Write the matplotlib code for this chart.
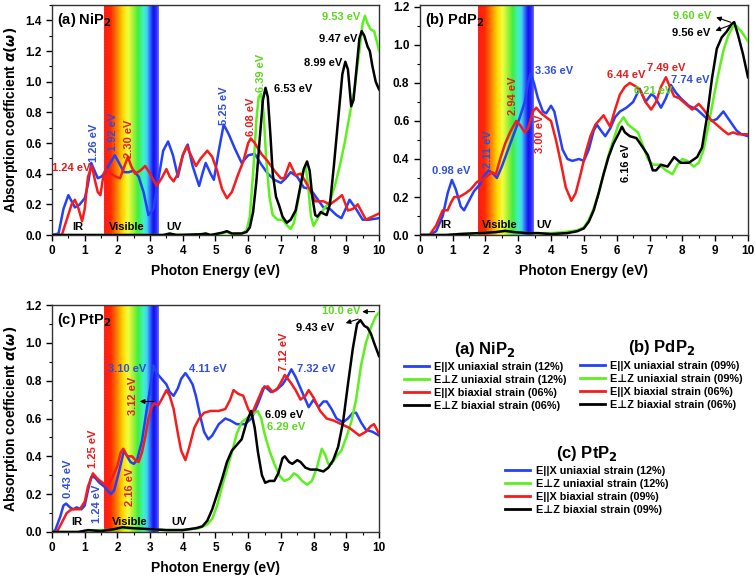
import matplotlib
matplotlib.use("Agg")
import numpy as np
import matplotlib.pyplot as plt
from matplotlib.colors import LinearSegmentedColormap
from matplotlib.lines import Line2D
from matplotlib.ticker import MultipleLocator, FormatStrFormatter

plt.rcParams['font.family'] = ['Liberation Sans', 'DejaVu Sans']
plt.rcParams['font.weight'] = 'bold'
plt.rcParams['axes.labelweight'] = 'bold'
plt.rcParams['mathtext.fontset'] = 'dejavusans'

# ---- data: (photon energy eV, absorption) ----
ni_ux = [(0, 0), (0.2, 0.01), (0.35, 0.17), (0.5, 0.26), (0.6, 0.22), (0.7, 0.18), (0.85, 0.2), (1.0, 0.24),
         (1.1, 0.33), (1.2, 0.47), (1.3, 0.42), (1.4, 0.37), (1.5, 0.38), (1.6, 0.40), (1.75, 0.46), (1.92, 0.52),
         (2.05, 0.47), (2.2, 0.41), (2.35, 0.41), (2.5, 0.42), (2.65, 0.38), (2.8, 0.28), (2.95, 0.13), (3.1, 0.17),
         (3.25, 0.36), (3.4, 0.55), (3.55, 0.61), (3.7, 0.52), (3.85, 0.38), (4.0, 0.52), (4.15, 0.59), (4.3, 0.45),
         (4.5, 0.32), (4.6, 0.40), (4.7, 0.47), (4.85, 0.40), (4.95, 0.36), (5.1, 0.55), (5.25, 0.72), (5.4, 0.66),
         (5.6, 0.56), (5.8, 0.47), (6.0, 0.52), (6.2, 0.53), (6.4, 0.46), (6.6, 0.40), (6.8, 0.36), (7.0, 0.34),
         (7.15, 0.37), (7.3, 0.41), (7.5, 0.38), (7.7, 0.31), (7.9, 0.30), (8.1, 0.24), (8.3, 0.18), (8.5, 0.17),
         (8.7, 0.13), (8.85, 0.11), (9.0, 0.18), (9.1, 0.23), (9.3, 0.17), (9.5, 0.10), (9.7, 0.10), (10.0, 0.11)]
ni_uz = [(0, 0), (3.5, 0.0), (3.7, 0.005), (4.0, 0.0), (4.5, 0.005), (4.65, 0.01), (4.8, 0.0), (5.2, 0.01),
         (5.35, 0.02), (5.5, 0.005), (5.8, 0.01), (5.95, 0.03), (6.05, 0.12), (6.15, 0.4), (6.25, 0.75), (6.32, 0.9),
         (6.39, 0.92), (6.47, 0.8), (6.55, 0.5), (6.65, 0.25), (6.75, 0.13), (6.9, 0.10), (7.05, 0.10), (7.2, 0.06),
         (7.3, 0.04), (7.4, 0.08), (7.55, 0.25), (7.68, 0.42), (7.75, 0.45), (7.82, 0.35), (7.92, 0.12), (8.0, 0.06),
         (8.15, 0.12), (8.35, 0.18), (8.5, 0.22), (8.65, 0.32), (8.8, 0.45), (8.95, 0.6), (9.1, 0.78), (9.25, 0.95),
         (9.4, 1.2), (9.5, 1.38), (9.57, 1.43), (9.65, 1.38), (9.75, 1.34), (9.85, 1.33), (9.95, 1.25), (10.0, 1.2)]
ni_bx = [(0, 0), (0.3, 0.0), (0.45, 0.1), (0.6, 0.2), (0.7, 0.23), (0.8, 0.18), (0.92, 0.09), (1.0, 0.17),
         (1.1, 0.38), (1.22, 0.45), (1.32, 0.35), (1.4, 0.28), (1.48, 0.26), (1.58, 0.4), (1.65, 0.43), (1.8, 0.40),
         (1.95, 0.38), (2.08, 0.37), (2.2, 0.44), (2.32, 0.51), (2.42, 0.45), (2.54, 0.40), (2.7, 0.42), (2.85, 0.45),
         (3.0, 0.40), (3.2, 0.32), (3.35, 0.37), (3.5, 0.43), (3.6, 0.38), (3.72, 0.35), (3.85, 0.40), (4.0, 0.52),
         (4.12, 0.58), (4.25, 0.52), (4.4, 0.45), (4.55, 0.5), (4.75, 0.55), (4.9, 0.51), (5.05, 0.42), (5.2, 0.3),
         (5.35, 0.24), (5.5, 0.28), (5.7, 0.4), (5.85, 0.48), (6.0, 0.6), (6.08, 0.63), (6.2, 0.6), (6.4, 0.53),
         (6.6, 0.48), (6.8, 0.42), (7.0, 0.37), (7.1, 0.37), (7.27, 0.47), (7.45, 0.39), (7.6, 0.40), (7.75, 0.35),
         (7.9, 0.29), (8.05, 0.22), (8.3, 0.22), (8.5, 0.2), (8.7, 0.23), (8.87, 0.26), (9.05, 0.16), (9.2, 0.17),
         (9.35, 0.2), (9.45, 0.16), (9.6, 0.10), (9.8, 0.12), (10.0, 0.14)]
ni_bz = [(0, 0), (3.4, 0.0), (3.6, 0.01), (3.8, 0.0), (4.6, 0.005), (4.7, 0.01), (4.85, 0.0), (5.2, 0.015),
         (5.35, 0.025), (5.5, 0.01), (5.8, 0.01), (5.95, 0.02), (6.05, 0.05), (6.15, 0.15), (6.25, 0.35), (6.35, 0.62),
         (6.45, 0.88), (6.53, 0.96), (6.6, 0.9), (6.68, 0.65), (6.75, 0.4), (6.85, 0.25), (6.95, 0.19), (7.05, 0.12),
         (7.18, 0.08), (7.3, 0.1), (7.45, 0.16), (7.58, 0.3), (7.7, 0.43), (7.8, 0.48), (7.88, 0.42), (7.96, 0.25),
         (8.05, 0.13), (8.12, 0.12), (8.22, 0.15), (8.3, 0.14), (8.4, 0.13), (8.5, 0.2), (8.62, 0.45), (8.75, 0.75),
         (8.88, 1.05), (8.97, 1.13), (9.05, 1.08), (9.15, 0.84), (9.22, 0.88), (9.32, 1.1), (9.4, 1.28), (9.47, 1.33),
         (9.55, 1.3), (9.65, 1.23), (9.72, 1.2), (9.8, 1.1), (9.9, 1.0), (10.0, 0.95)]

pd_ux = [(0, 0), (0.3, 0.0), (0.5, 0.02), (0.7, 0.1), (0.85, 0.22), (0.98, 0.29), (1.1, 0.24), (1.25, 0.15),
         (1.35, 0.13), (1.5, 0.18), (1.65, 0.23), (1.85, 0.27), (1.95, 0.31), (2.1, 0.34), (2.25, 0.32), (2.35, 0.30),
         (2.5, 0.36), (2.65, 0.43), (2.8, 0.5), (2.95, 0.57), (3.05, 0.62), (3.2, 0.7), (3.3, 0.8), (3.38, 0.85),
         (3.48, 0.8), (3.6, 0.72), (3.75, 0.65), (3.85, 0.64), (4.0, 0.68), (4.1, 0.65), (4.2, 0.57), (4.35, 0.45),
         (4.5, 0.4), (4.65, 0.39), (4.85, 0.40), (5.0, 0.39), (5.15, 0.45), (5.3, 0.55), (5.4, 0.58), (5.52, 0.55),
         (5.65, 0.52), (5.8, 0.56), (5.95, 0.62), (6.1, 0.65), (6.3, 0.67), (6.5, 0.70), (6.7, 0.77), (6.88, 0.70),
         (7.05, 0.74), (7.15, 0.73), (7.35, 0.67), (7.5, 0.72), (7.65, 0.79), (7.8, 0.75), (7.95, 0.72), (8.2, 0.68),
         (8.45, 0.66), (8.7, 0.62), (8.9, 0.6), (9.05, 0.61), (9.25, 0.65), (9.45, 0.60), (9.65, 0.55), (9.8, 0.53),
         (10.0, 0.52)]
pd_uz = [(0, 0), (0.8, 0.0), (1.2, 0.005), (1.8, 0.01), (2.3, 0.015), (2.6, 0.02), (2.9, 0.015), (3.3, 0.01),
         (3.6, 0.01), (4.0, 0.01), (4.4, 0.015), (4.8, 0.025), (5.0, 0.04), (5.15, 0.08), (5.3, 0.14), (5.45, 0.22),
         (5.6, 0.32), (5.75, 0.42), (5.9, 0.5), (6.05, 0.58), (6.21, 0.62), (6.35, 0.58), (6.5, 0.56), (6.65, 0.54),
         (6.8, 0.47), (6.95, 0.4), (7.1, 0.37), (7.3, 0.37), (7.5, 0.34), (7.7, 0.32), (7.85, 0.37), (8.0, 0.40),
         (8.15, 0.39), (8.35, 0.36), (8.5, 0.38), (8.65, 0.45), (8.8, 0.58), (8.95, 0.72), (9.1, 0.85), (9.25, 0.97),
         (9.4, 1.05), (9.55, 1.1), (9.65, 1.1), (9.8, 1.07), (10.0, 1.02)]
pd_bx = [(0, 0), (0.3, 0.0), (0.5, 0.05), (0.7, 0.13), (0.85, 0.13), (0.95, 0.17), (1.05, 0.2), (1.2, 0.2),
         (1.4, 0.22), (1.55, 0.24), (1.75, 0.28), (1.9, 0.29), (2.05, 0.31), (2.2, 0.33), (2.32, 0.32), (2.45, 0.40),
         (2.6, 0.48), (2.75, 0.54), (2.94, 0.60), (3.05, 0.58), (3.2, 0.54), (3.3, 0.56), (3.45, 0.65), (3.55, 0.67),
         (3.7, 0.64), (3.85, 0.62), (4.0, 0.6), (4.15, 0.5), (4.3, 0.38), (4.45, 0.25), (4.62, 0.18), (4.75, 0.22),
         (4.9, 0.32), (5.05, 0.43), (5.2, 0.52), (5.35, 0.58), (5.6, 0.63), (5.8, 0.57), (5.95, 0.66), (6.1, 0.74),
         (6.25, 0.78), (6.4, 0.80), (6.6, 0.78), (6.75, 0.75), (6.88, 0.70), (7.05, 0.66), (7.2, 0.7), (7.35, 0.78),
         (7.5, 0.83), (7.62, 0.78), (7.75, 0.73), (7.9, 0.72), (8.1, 0.69), (8.3, 0.66), (8.5, 0.69), (8.65, 0.66),
         (8.85, 0.61), (9.05, 0.58), (9.25, 0.55), (9.4, 0.53), (9.55, 0.54), (9.7, 0.53), (10.0, 0.53)]
pd_bz = [(0, 0), (0.8, 0.0), (1.2, 0.005), (1.8, 0.01), (2.3, 0.015), (2.6, 0.022), (2.9, 0.015), (3.3, 0.01),
         (3.6, 0.01), (4.0, 0.005), (4.5, 0.01), (4.8, 0.02), (5.0, 0.035), (5.15, 0.07), (5.3, 0.13), (5.45, 0.22),
         (5.6, 0.32), (5.75, 0.41), (5.9, 0.48), (6.05, 0.53), (6.16, 0.57), (6.25, 0.54), (6.4, 0.52), (6.6, 0.51),
         (6.8, 0.46), (6.95, 0.42), (7.1, 0.34), (7.2, 0.34), (7.35, 0.37), (7.55, 0.36), (7.75, 0.41), (7.95, 0.38),
         (8.2, 0.38), (8.45, 0.41), (8.6, 0.46), (8.75, 0.62), (8.9, 0.82), (9.05, 0.98), (9.2, 1.04), (9.35, 1.07),
         (9.5, 1.11), (9.58, 1.12), (9.7, 1.05), (9.85, 0.95), (10.0, 0.83)]

pt_ux = [(0, 0), (0.1, 0.01), (0.25, 0.08), (0.35, 0.14), (0.43, 0.15), (0.55, 0.13), (0.65, 0.12), (0.75, 0.13),
         (0.9, 0.12), (1.0, 0.14), (1.1, 0.22), (1.2, 0.29), (1.3, 0.29), (1.45, 0.26), (1.6, 0.24), (1.7, 0.22),
         (1.8, 0.2), (1.9, 0.22), (2.05, 0.32), (2.2, 0.43), (2.3, 0.4), (2.4, 0.37), (2.5, 0.36), (2.6, 0.38),
         (2.75, 0.48), (2.9, 0.65), (3.0, 0.76), (3.1, 0.88), (3.2, 0.84), (3.35, 0.81), (3.5, 0.78), (3.6, 0.74),
         (3.72, 0.72), (3.85, 0.76), (3.95, 0.81), (4.08, 0.84), (4.2, 0.81), (4.3, 0.78), (4.4, 0.72), (4.55, 0.6),
         (4.65, 0.53), (4.78, 0.49), (4.9, 0.51), (5.1, 0.57), (5.3, 0.60), (5.45, 0.59), (5.65, 0.57), (5.9, 0.57),
         (6.1, 0.6), (6.3, 0.68), (6.5, 0.77), (6.7, 0.74), (6.85, 0.75), (7.05, 0.78), (7.2, 0.82), (7.32, 0.86),
         (7.45, 0.82), (7.6, 0.76), (7.75, 0.7), (7.85, 0.66), (8.0, 0.70), (8.15, 0.66), (8.3, 0.69), (8.4, 0.69),
         (8.55, 0.65), (8.7, 0.60), (8.9, 0.58), (9.05, 0.60), (9.2, 0.63), (9.3, 0.63), (9.45, 0.58), (9.6, 0.54),
         (9.8, 0.53), (10.0, 0.51)]
pt_uz = [(0, 0), (0.8, 0.0), (1.1, 0.005), (1.5, 0.01), (1.9, 0.01), (2.2, 0.02), (2.5, 0.015), (3.0, 0.015),
         (3.5, 0.01), (4.0, 0.01), (4.5, 0.02), (4.75, 0.04), (4.9, 0.07), (5.05, 0.14), (5.2, 0.24), (5.35, 0.33),
         (5.5, 0.42), (5.65, 0.52), (5.8, 0.58), (5.95, 0.6), (6.1, 0.62), (6.29, 0.64), (6.4, 0.6), (6.5, 0.52),
         (6.65, 0.43), (6.8, 0.36), (6.95, 0.30), (7.1, 0.27), (7.25, 0.28), (7.4, 0.31), (7.5, 0.30), (7.65, 0.27),
         (7.8, 0.25), (7.95, 0.27), (8.1, 0.34), (8.25, 0.44), (8.35, 0.41), (8.45, 0.36), (8.55, 0.36), (8.7, 0.40),
         (8.85, 0.43), (9.0, 0.50), (9.15, 0.58), (9.3, 0.70), (9.45, 0.88), (9.6, 1.0), (9.75, 1.08), (9.9, 1.14),
         (10.0, 1.16)]
pt_bx = [(0, 0), (0.15, 0.0), (0.3, 0.05), (0.45, 0.1), (0.6, 0.12), (0.85, 0.12), (1.0, 0.16), (1.1, 0.24),
         (1.25, 0.31), (1.4, 0.28), (1.55, 0.26), (1.7, 0.24), (1.85, 0.29), (2.0, 0.35), (2.1, 0.42), (2.18, 0.44),
         (2.3, 0.4), (2.45, 0.40), (2.55, 0.38), (2.65, 0.37), (2.75, 0.42), (2.85, 0.5), (2.95, 0.6), (3.05, 0.66),
         (3.12, 0.68), (3.25, 0.67), (3.35, 0.70), (3.5, 0.75), (3.6, 0.72), (3.72, 0.65), (3.85, 0.52), (3.95, 0.43),
         (4.08, 0.38), (4.2, 0.45), (4.35, 0.55), (4.5, 0.6), (4.65, 0.63), (4.85, 0.64), (5.1, 0.64), (5.3, 0.65),
         (5.45, 0.7), (5.55, 0.75), (5.7, 0.73), (5.85, 0.72), (6.0, 0.65), (6.1, 0.62), (6.25, 0.68), (6.45, 0.76),
         (6.6, 0.77), (6.75, 0.74), (6.9, 0.76), (7.0, 0.79), (7.12, 0.83), (7.3, 0.79), (7.45, 0.75), (7.6, 0.70),
         (7.75, 0.72), (7.85, 0.75), (8.0, 0.71), (8.2, 0.64), (8.4, 0.6), (8.6, 0.59), (8.85, 0.57), (9.1, 0.55),
         (9.25, 0.53), (9.4, 0.51), (9.6, 0.53), (9.75, 0.56), (9.85, 0.57), (10.0, 0.52)]
pt_bz = [(0, 0), (0.8, 0.0), (1.1, 0.01), (1.5, 0.005), (1.9, 0.015), (2.15, 0.025), (2.5, 0.02), (3.0, 0.015),
         (3.5, 0.01), (4.0, 0.01), (4.4, 0.02), (4.6, 0.03), (4.75, 0.06), (4.9, 0.12), (5.05, 0.2), (5.2, 0.28),
         (5.35, 0.37), (5.5, 0.43), (5.65, 0.46), (5.8, 0.49), (5.95, 0.58), (6.09, 0.64), (6.2, 0.55), (6.3, 0.42),
         (6.42, 0.3), (6.52, 0.26), (6.65, 0.27), (6.8, 0.27), (6.92, 0.31), (7.05, 0.39), (7.12, 0.40), (7.25, 0.37),
         (7.35, 0.36), (7.5, 0.38), (7.6, 0.37), (7.75, 0.34), (7.9, 0.33), (8.1, 0.33), (8.3, 0.32), (8.45, 0.34),
         (8.6, 0.38), (8.75, 0.45), (8.9, 0.58), (9.05, 0.78), (9.2, 0.97), (9.33, 1.1), (9.43, 1.12), (9.55, 1.09),
         (9.65, 1.08), (9.75, 1.05), (9.85, 1.0), (10.0, 0.93)]

ni_labels = ['E||X uniaxial strain (12%)', 'E\u22a5Z uniaxial strain (12%)',
             'E||X biaxial strain (06%)', 'E\u22a5Z biaxial strain (06%)']
pd_labels = ['E||X uniaxial strain (09%)', 'E\u22a5Z uniaxial strain (09%)',
             'E||X biaxial strain (06%)', 'E\u22a5Z biaxial strain (06%)']
pt_labels = ['E||X uniaxial strain (12%)', 'E\u22a5Z uniaxial strain (12%)',
             'E||X biaxial strain (09%)', 'E\u22a5Z biaxial strain (09%)']

BLUE, GREEN, RED, BLACK = '#2541f5', '#5cf01e', '#f51c1c', '#000000'
TBLUE, TGREEN, TRED = '#2f4fd8', '#5cd81e', '#e81c1c'
colors = [BLUE, GREEN, RED, BLACK]

spectrum = LinearSegmentedColormap.from_list('vis', [
    (0.0, '#ff1a1a'), (0.12, '#ff2a00'), (0.25, '#ff8c00'), (0.34, '#ffd800'), (0.44, '#f0ff40'),
    (0.54, '#9cf03a'), (0.62, '#3ef040'), (0.72, '#40f0c8'), (0.78, '#40d8f0'), (0.83, '#3a78ff'),
    (0.9, '#1010f0'), (0.96, '#3030ff'), (1.0, '#7070ff')])

fig = plt.figure(figsize=(7.56, 5.79), dpi=100)


def setup_panel(rect, ytop, yticks_max, vis, title, ylabel=True):
    ax = fig.add_axes(rect)
    ax.set_xlim(0, 10)
    ax.set_ylim(0, ytop)
    ax.imshow(np.linspace(0, 1, 256).reshape(1, -1), cmap=spectrum, aspect='auto',
              extent=(vis[0], vis[1], 0, ytop), zorder=0)
    ax.axvline(vis[0], color='#ff3030', lw=0.8, ls=':', zorder=1)
    ax.xaxis.set_major_locator(MultipleLocator(1))
    ax.xaxis.set_minor_locator(MultipleLocator(0.5))
    ax.set_yticks(np.arange(0, yticks_max + 0.01, 0.2))
    ax.yaxis.set_minor_locator(MultipleLocator(0.1))
    ax.yaxis.set_major_formatter(FormatStrFormatter('%.1f'))
    ax.tick_params(which='major', direction='out', length=4, width=1, labelsize=8.5)
    ax.tick_params(which='minor', direction='out', length=2, width=0.8)
    for lbl in ax.get_xticklabels() + ax.get_yticklabels():
        lbl.set_fontweight('bold')
    for s in ax.spines.values():
        s.set_linewidth(1.0)
        s.set_color('#333333')
    ax.set_xlabel('Photon Energy (eV)', fontsize=10, labelpad=5)
    if ylabel:
        ax.set_ylabel(r'Absorption coefficient $\alpha\left(\omega\right)$', fontsize=10, labelpad=4)
    ax.text(0.15, ytop * 0.975, title, fontsize=10.5, fontweight='bold', va='top', ha='left')
    return ax


def draw_curves(ax, series):
    for pts, c in zip(series, colors):
        x, y = zip(*pts)
        ax.plot(x, y, color=c, lw=1.8, zorder=3)


def note(ax, s, x, y, c, rot=0, ha='center'):
    ax.text(x, y, s, color=c, fontsize=8, fontweight='bold', rotation=rot,
            ha=ha, va='center', zorder=5)


def arrow(ax, start, end):
    ax.annotate('', xy=end, xytext=start, zorder=6,
                arrowprops=dict(arrowstyle='-|>', color='black', lw=0.8, mutation_scale=7))


def region_labels(ax, xs):
    for s, x in zip(['IR', 'Visible', 'UV'], xs):
        ax.text(x, 0.055, s, fontsize=8, fontweight='bold', ha='center', va='center', zorder=5)


# (a) NiP2
ax_a = setup_panel([0.0688, 0.5941, 0.4325, 0.3972], 1.5, 1.4, (1.6, 3.27), '(a) NiP$_\\mathbf{2}$')
draw_curves(ax_a, [ni_ux, ni_uz, ni_bx, ni_bz])
region_labels(ax_a, [0.78, 2.3, 3.72])
note(ax_a, '1.24 eV', 0.6, 0.44, TRED)
note(ax_a, '1.26 eV', 1.27, 0.6, TBLUE, 90)
note(ax_a, '1.92 eV', 1.88, 0.67, TBLUE, 90)
note(ax_a, '2.30 eV', 2.35, 0.63, TRED, 90)
note(ax_a, '5.25 eV', 5.27, 0.84, TBLUE, 90)
note(ax_a, '6.08 eV', 6.1, 0.77, TRED, 90)
note(ax_a, '6.39 eV', 6.4, 1.06, TGREEN, 90)
note(ax_a, '6.53 eV', 7.36, 0.95, BLACK)
note(ax_a, '8.99 eV', 8.3, 1.12, BLACK)
note(ax_a, '9.47 eV', 8.75, 1.28, BLACK)
note(ax_a, '9.53 eV', 8.85, 1.42, TGREEN)

# (b) PdP2
ax_b = setup_panel([0.5552, 0.5941, 0.4342, 0.3972], 1.21, 1.2, (1.77, 3.45), '(b) PdP$_\\mathbf{2}$', ylabel=False)
draw_curves(ax_b, [pd_ux, pd_uz, pd_bx, pd_bz])
region_labels(ax_b, [0.8, 2.45, 3.78])
note(ax_b, '0.98 eV', 0.95, 0.335, TBLUE)
note(ax_b, '2.11 eV', 2.08, 0.45, TBLUE, 90)
note(ax_b, '2.94 eV', 2.84, 0.73, TRED, 90)
note(ax_b, '3.36 eV', 4.1, 0.865, TBLUE)
note(ax_b, '3.00 eV', 3.65, 0.535, TRED, 90)
note(ax_b, '6.44 eV', 6.3, 0.84, TRED)
note(ax_b, '7.49 eV', 7.5, 0.88, TRED)
note(ax_b, '7.74 eV', 8.25, 0.815, TBLUE)
note(ax_b, '6.21 eV', 7.1, 0.76, TGREEN)
note(ax_b, '6.16 eV', 6.29, 0.38, BLACK, 90)
note(ax_b, '9.60 eV', 8.3, 1.15, TGREEN)
note(ax_b, '9.56 eV', 8.28, 1.065, BLACK)
arrow(ax_b, (9.55, 1.115), (8.95, 1.15))
arrow(ax_b, (9.55, 1.11), (8.93, 1.07))

# (c) PtP2
ax_c = setup_panel([0.0688, 0.0812, 0.4325, 0.392], 1.2, 1.2, (1.6, 3.27), '(c) PtP$_\\mathbf{2}$')
draw_curves(ax_c, [pt_ux, pt_uz, pt_bx, pt_bz])
region_labels(ax_c, [0.76, 2.37, 3.9])
note(ax_c, '0.43 eV', 0.5, 0.28, TBLUE, 90)
note(ax_c, '1.25 eV', 1.25, 0.44, TRED, 90)
note(ax_c, '1.24 eV', 1.38, 0.15, TBLUE, 90)
note(ax_c, '3.10 eV', 2.3, 0.86, TBLUE)
note(ax_c, '3.12 eV', 2.48, 0.72, TRED, 90)
note(ax_c, '2.16 eV', 2.38, 0.24, TRED, 90)
note(ax_c, '4.11 eV', 4.78, 0.86, TBLUE)
note(ax_c, '7.12 eV', 7.08, 0.95, TRED, 90)
note(ax_c, '7.32 eV', 8.07, 0.86, TBLUE)
note(ax_c, '6.09 eV', 7.1, 0.62, BLACK)
note(ax_c, '6.29 eV', 7.15, 0.555, TGREEN)
note(ax_c, '10.0 eV', 8.85, 1.17, TGREEN)
note(ax_c, '9.43 eV', 8.05, 1.08, BLACK)
arrow(ax_c, (3.2, 0.69), (2.6, 0.69))
arrow(ax_c, (9.95, 1.165), (9.4, 1.165))
arrow(ax_c, (9.45, 1.13), (8.9, 1.1))


def strain_legend(labels, title, anchor):
    handles = [Line2D([], [], color=c, lw=2) for c in colors]
    leg = fig.legend(handles, labels, loc='center', bbox_to_anchor=anchor, frameon=False,
                     fontsize=7.8, title=title, title_fontproperties={'weight': 'bold', 'size': 12},
                     handlelength=2.3, handletextpad=0.5, labelspacing=0.28, borderpad=0.2)
    for t in leg.get_texts():
        t.set_fontweight('bold')


strain_legend(ni_labels, '(a) NiP$_\\mathbf{2}$', (0.642, 0.352))
strain_legend(pd_labels, '(b) PdP$_\\mathbf{2}$', (0.875, 0.354))
strain_legend(pt_labels, '(c) PtP$_\\mathbf{2}$', (0.776, 0.172))

fig.savefig('out.png', dpi=100)
